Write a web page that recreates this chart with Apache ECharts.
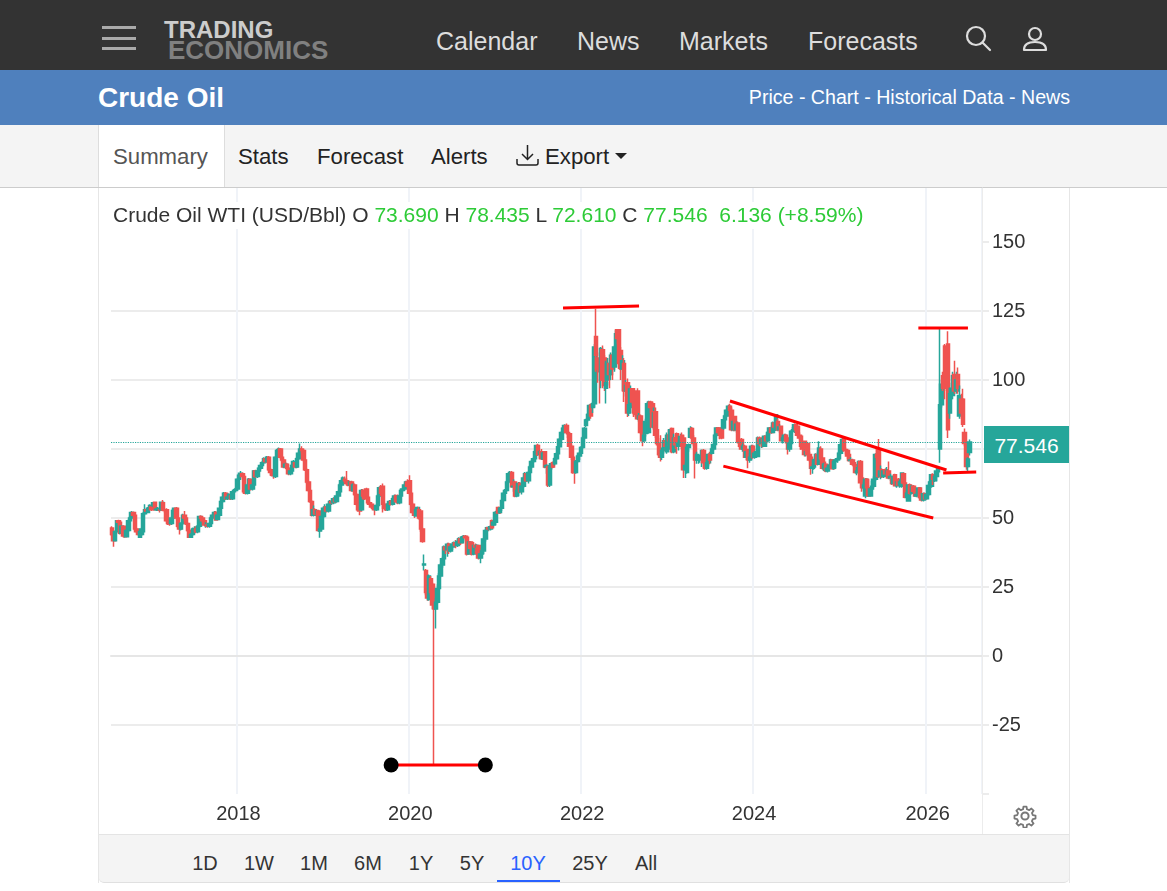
<!DOCTYPE html>
<html><head><meta charset="utf-8"><title>Crude Oil</title>
<script src="https://cdn.jsdelivr.net/npm/echarts@6/dist/echarts.min.js"></script>
<style>
html,body{margin:0;padding:0;background:#fff;width:1167px;height:891px;overflow:hidden;font-family:"Liberation Sans",Arial,sans-serif}
.a{position:absolute;white-space:nowrap}
.nav{font-size:25px;color:#ddd;top:26px;line-height:30px}
.tab{font-size:22.2px;color:#222;top:144px;line-height:26px}
.rng{font-size:20px;color:#333;top:851px;line-height:24px;transform:translateX(-50%)}
.g{color:#2dcb37}
</style></head><body>
<div class="a" style="left:0;top:0;width:1167px;height:70px;background:#333"></div>
<div class="a" style="left:102px;top:26px;width:34px;height:3px;background:#aaa"></div>
<div class="a" style="left:102px;top:37px;width:34px;height:3px;background:#aaa"></div>
<div class="a" style="left:102px;top:47px;width:34px;height:3px;background:#aaa"></div>
<div class="a" style="left:164px;top:16px;font-size:24px;font-weight:bold;color:#ccc;line-height:28px">TRADING</div>
<div class="a" style="left:168px;top:35px;font-size:26px;font-weight:bold;color:#808080;line-height:30px">ECONOMICS</div>
<div class="a nav" style="left:436px">Calendar</div>
<div class="a nav" style="left:577px">News</div>
<div class="a nav" style="left:679px">Markets</div>
<div class="a nav" style="left:808px">Forecasts</div>
<svg class="a" style="left:964px;top:25px" width="28" height="28" viewBox="0 0 28 28" fill="none" stroke="#ddd" stroke-width="2.2"><circle cx="12" cy="11" r="9"/><path d="M18.5 17.5L26 25" stroke-linecap="round"/></svg>
<svg class="a" style="left:1022px;top:26px" width="26" height="27" viewBox="0 0 26 27" fill="none" stroke="#ddd" stroke-width="2.2"><circle cx="13" cy="8" r="6"/><path d="M2 24c0-5 4-8 11-8s11 3 11 8z" stroke-linejoin="round"/></svg>

<div class="a" style="left:0;top:70px;width:1167px;height:55px;background:#4f80bd"></div>
<div class="a" style="left:98px;top:82px;font-size:28px;font-weight:bold;color:#fff;line-height:32px">Crude Oil</div>
<div class="a" style="right:97px;top:85px;font-size:19.6px;color:#fff;line-height:24px">Price - Chart - Historical Data - News</div>

<div class="a" style="left:0;top:125px;width:1167px;height:62px;background:#f4f4f4;border-bottom:1px solid #ccc"></div>
<div class="a" style="left:98px;top:125px;width:125px;height:62px;background:#fff;border-left:1px solid #ddd;border-right:1px solid #ddd"></div>
<div class="a tab" style="left:113px;color:#555">Summary</div>
<div class="a tab" style="left:238px">Stats</div>
<div class="a tab" style="left:317px">Forecast</div>
<div class="a tab" style="left:431px">Alerts</div>
<svg class="a" style="left:516px;top:144px" width="24" height="24" viewBox="0 0 24 24" fill="none" stroke="#222" stroke-width="1.5"><path d="M11.5 1v14M6 10l5.5 5.5L17 10M1 15v4a2 2 0 0 0 2 2h17a2 2 0 0 0 2-2v-4"/></svg>
<div class="a tab" style="left:545px">Export</div>
<div class="a" style="left:615px;top:153px;width:0;height:0;border-left:6px solid transparent;border-right:6px solid transparent;border-top:6px solid #222"></div>

<div class="a" style="left:98px;top:188px;width:1px;height:695px;background:#e6e6e6"></div>
<div class="a" style="left:1069px;top:188px;width:1px;height:695px;background:#e6e6e6"></div>
<div class="a" style="left:982px;top:794px;width:1px;height:40px;background:#ececec"></div>
<svg class="a" style="left:1013px;top:804px" width="24" height="24" viewBox="0 0 24 24" fill="none" stroke="#777" stroke-width="2"><circle cx="12" cy="12" r="3.6"/><path d="M10.3 1.5h3.4l.5 3 2.4 1 2.5-1.8 2.4 2.4-1.8 2.5 1 2.4 3 .5v3.4l-3 .5-1 2.4 1.8 2.5-2.4 2.4-2.5-1.8-2.4 1-.5 3h-3.4l-.5-3-2.4-1-2.5 1.8-2.4-2.4 1.8-2.5-1-2.4-3-.5v-3.4l3-.5 1-2.4-1.8-2.5 2.4-2.4 2.5 1.8 2.4-1z" stroke-linejoin="round" transform="translate(1.2 1.2) scale(.9)"/></svg>

<div class="a" style="left:99px;top:834px;width:970px;height:47px;background:#f4f4f4;border-top:1px solid #e4e4e4;border-bottom:1px solid #e0e0e0;border-radius:0 0 5px 5px"></div>
<div class="a rng" style="left:205px">1D</div>
<div class="a rng" style="left:259px">1W</div>
<div class="a rng" style="left:314px">1M</div>
<div class="a rng" style="left:368px">6M</div>
<div class="a rng" style="left:421px">1Y</div>
<div class="a rng" style="left:472px">5Y</div>
<div class="a rng" style="left:528px;color:#2962ff">10Y</div>
<div class="a rng" style="left:590px">25Y</div>
<div class="a rng" style="left:646px">All</div>
<div class="a" style="left:497px;top:880px;width:63px;height:2px;background:#2962ff"></div>

<div id="c" class="a" style="left:0;top:0;width:1167px;height:891px;z-index:1"></div>
<div class="a" style="left:113px;top:202px;height:27px;line-height:25px;font-size:21px;color:#333;background:#fff;z-index:2">Crude Oil WTI (USD/Bbl) O <span class="g">73.690</span> H <span class="g">78.435</span> L <span class="g">72.610</span> C <span class="g">77.546&nbsp; 6.136 (+8.59%)</span></div>
<div class="a" style="left:984px;top:426px;width:85px;height:37px;line-height:39px;background:#26a69a;color:#fff;font-size:21px;text-align:center;z-index:2">77.546</div>

<script>
// weekly candles: [open, close, low, high]
const w2016=[
[46.4,44,43.5,47],[44,41.8,39.6,44.5],[41.8,45,41.5,45.5],[45,49,44.5,49.2],[49,48.5,47.5,49.4],[48.5,44.5,44,49],[44.5,47,44,47.5],[47,43.5,43,47.4],[43.5,43.2,42.8,45.5],[43.2,45.5,43,46],
[45.5,49,45,49.5],[49,50,48.5,50.5],[50,52,49.5,52.5],[52,51,50.5,52.4],[51,46,45.5,51.5],[46,45,44.5,46.5],[45,44,43.5,45.5],[43,45,42.8,45.5],[44,46,43.5,46.5],[45,51.5,44.8,52],
[51.5,53,51,55],[53,52.5,52,53.5],[52,53.5,51.8,54],[53.5,54.5,53,55]];
const w2017=[
[54,53,52.5,55],[54.5,55.5,54,55.8],[55.7,53,52.8,56],[53,53.2,52.5,53.8],[53,53.4,52.5,54],[53,52.8,52,53.8],[53,55.7,52.5,56],[55.5,53,52.5,56.5],[53,52.7,52,53.5],[53,49,48.5,53.5],
[49,48,47.5,50],[48,47.8,47.2,49],[48,50,47.5,50.5],[50,52.7,49.5,53.2],[52,53.5,51.5,53.8],[53.5,50,49.5,54],[50,47,46.5,50.5],[47,46,44,47.5],[46,48,45.5,48.5],[48,51,47.5,51.5],
[51,50,49,52.5],[50,48,47.5,50.5],[48,45.5,45,48.5],[45.5,43,42.8,46],[43,44,42.8,44.5],[44,46,43.5,46.5],[46,46.2,45,47],[46,45,44.5,47],[45,47,44.5,47.5],[47,50.5,46.5,50.8],
[50.5,50,49.5,51],[50,49,48.5,50.5],[49,47.5,47,49.5],[47.5,47.5,46.5,48.5],[47.5,47,46.5,48],[47,48,46.5,48.5],[48,50,47.5,50.5],[50,51,49.5,51.5],[51,52,50,52.5],[52,49.3,49,52.5],
[49.5,51,49.2,51.5],[51,53.5,50.5,53.8],[53.5,56,53,56.3],[56,57.5,55.5,58],[57.5,59,57,59.4],[59,57,56.5,59.4],[57,57.5,56.5,58],[57.5,58.5,57,59],[58,57,56.5,59],[57,59.5,56.5,59.8],
[59.5,60,59,60.5],[60,60.5,59.5,61]];
const w2018=[
[60.5,64,60,64.5],[64,65.5,63.5,66],[65.5,66.2,65,67],[66,65,64,66.5],[65,59.5,59,65.5],[59.5,59,58.5,60.5],[59,62,58.5,62.5],[62,64,61.5,64.5],[64,60.5,60,64.3],[60.5,62,60,62.5],
[62,67,61.5,67.4],[67,65,64.5,67.5],[65,67,64.5,67.4],[67,68,66.5,68.5],[68,69,67.5,69.5],[69,70,68.5,70.5],[70,71.5,69.5,72],[71.5,70.5,70,72],[70.5,72,70,72.5],[72,67.5,67,72.5],
[67.5,66.5,65.5,68],[66.5,65.5,65,67],[65,65,64.2,66],[65,72,64.5,72.5],[72,74.5,71.5,75],[74.5,75,73.5,75.5],[75,72,71.5,75.4],[72,71,70.5,72.5],[71,68.5,68,71.5],[68.5,69.5,68,70],
[69.5,68,67.5,70],[68,66,65.5,68.5],[66,67,65.5,67.5],[67,69,66.5,69.5],[69,70.5,68.5,71],[70,68.5,68,70.5],[68.5,71.5,68,72],[71.5,73.5,71,74],[73.5,75,73,77],[75,74.5,73.5,76],
[74.5,71,70.5,75],[71,67.5,67,71.5],[67.5,63,62.5,68],[63,60,59.5,63.5],[60,56,55.5,60.5],[56,51,50.5,56.5],[51,53,50.5,54.5],[53,51.5,51,53.5],[51.5,52.5,50.5,53],[52.5,45.5,45,53],
[45.3,46,42.8,47],[46,50.5,45.5,51]];
const w2019=[
[50.5,53.5,50,54],[53.5,54,53,55],[54,52.5,52,54.5],[52.5,55,52,55.5],[55,56,54.5,56.5],[56,55.5,55,56.5],[55.5,57,55,57.5],[57,56,55.5,57.5],[56,58,55.5,58.5],[58,59.5,57.5,60],
[59.5,62,59,62.5],[62,63.5,61.5,64],[63.5,64.5,63,65],[64,63.5,63,65],[63.5,62.5,62,67],[62.5,62,61.5,63.5],[62,63,61.5,63.5],[63,60,59.5,63.5],[60,62,59.5,62.5],[62,58.5,58,62.5],
[58.5,55,54.5,59],[55,53,52.5,55.5],[53,52.5,51,53.5],[53,60,52.5,60.5],[60,58,57.5,60.5],[58,57,56.5,58.5],[60.5,57.5,57,61],[57.5,55.5,55,58],[55.5,55,54.5,56],[55,54,53.5,55.5],
[54,53.5,53,54.5],[54,53,51,54.5],[53,54.5,52.5,55],[54.5,58,54,58.5],[58,61,57.5,61.5],[61,59,58,62],[61.5,55,52,62.5],[55,53.5,53,55.5],[53.5,53,52.5,54],[53,55,52.5,55.5],
[55,56,54.5,56.5],[56,55,54.5,56.5],[55,57,54.5,57.5],[57,58,56.5,58.5],[58,56,55.5,58.5],[58,55.5,55,58.5],[55.5,58,55,58.5],[58,60,57.5,60.5],[60,60.5,59.5,61],[60.5,62,60,62.5],
[62,63,61.5,63.5],[63,61.5,61,64]];
const w2020=[
[63.5,59,58.5,65.5],[59,55,54.5,59.5],[55,52,51.5,55.5],[52,51,50,52.5],[50.7,53,50.5,53.5],[53,53.8,52,54.2],[53,50,49.5,54],[52.5,46,45,52.8],[46,41.5,41,46.5],[33,33.3,31,36.8],
[31,23,22,31.5],[23,21,20,25],[20.5,29,20,29.5],[28,23,22,29],[26,18.5,17,26.5],[18,17,-39.5,19],[17,19.5,10,21],[19.5,24.5,19,26],[24.5,29,24,30],[29,33,28.5,33.5],
[33,35.2,32,36],[35.2,39.5,34,40],[39.5,38.5,37,40],[38.5,40.5,36,41],[40.5,38,37,41],[38,39.5,37.5,40.2],[39.5,40.5,38.5,41],[40.5,41,39.5,41.5],[41,40,39,42],[40,41.5,39.5,42.2],
[41.5,42.5,40.5,43],[42.5,41,40.2,43.2],[41,43,40.8,43.5],[43,43.4,41.5,43.8],[43.4,42.8,42,43.8],[43,37,36.4,43.2],[37,41.3,36.8,41.6],[41.3,39,37.5,41.6],[41,37,36.4,41.4],[37,40,36.5,40.3],
[40,39.5,37,40.8],[39.5,40,38,40.5],[40,35.5,35,40.2],[35.5,37,33.6,37.5],[37,38,36,39],[38,42.4,37,42.8],[42.4,45.5,41.5,46],[45.5,46.5,44.5,46.8],[46.5,46,45.5,47],[46,46.8,45.5,47.5],
[49,46.5,46,49.5],[47.5,48.5,47,49.5]];
const w2021=[
[48.5,52,47.5,52.5],[52,52.2,51.5,53],[53.8,51.8,51.5,54.2],[52,53.5,51.5,54],[53.5,56.3,52.5,56.6],[56.3,59,56,59.5],[59,60,58.5,60.5],[60,63,59.5,63.5],[63,66,62.5,66.4],[66,66.5,64,67],
[66.5,61.3,61,67],[61.3,61.5,59.5,64],[63,58,57.5,63.5],[58,60,57.5,61.5],[60,62.5,58,63],[62.5,59.5,59,63],[59.5,61.5,58.5,62],[61.5,64.5,61,65],[64.5,66,63.5,66.7],[66,63.5,63,66.5],
[63.5,66.5,62.5,67],[66.5,68.5,66,69],[68.5,70.5,68,71],[70.5,71.5,70,72],[71.5,74,71,74.5],[74,76.3,73,76.5],[76.3,73,72.5,76.9],[73,74,71.5,74.5],[74,71.5,71,75],[71.5,73.5,71,74],
[74,68.5,68,74.2],[68.5,69,66,69.5],[68.5,62,61.2,69],[62,68.5,61.2,68.8],[68.5,69.7,67.5,70.2],[70,68.5,68,70.5],[69.7,71.5,69,72],[71.5,73.3,71,73.8],[73.3,75.8,73,76],[75.8,78.5,75.5,79],
[78.5,81,78,81.5],[81,82.5,80.5,83],[82.5,83.5,81,84],[83.5,81,80.5,84.2],[81,80.5,79,82.5],[80.5,76,75.5,81],[76,72,71,76.5],[72,66.5,66,72.5],[69.5,66.5,62.4,70],[66.5,70.5,66,71],
[70.5,72.5,70,73],[72.5,73.5,71,74]];
const w2022=[
[73.5,75.5,73,76],[75.5,79,75,79.5],[79,82.5,78.5,83],[83.5,85.5,83,86],[85.5,87.5,85,88],[87.5,90.8,87,91.2],[90.8,87,86,91.5],[90,91.4,88,92],[91.4,112,90,113],[115.8,109,103,125.8],
[108,104,99,110],[104,103,91.5,106],[100,111.4,97,112],[111,100,97,112.5],[108,98,96,109],[97,99,91.5,107],[100,106,98,108],[106,102,97,108],[102,109,100,110],[109,104,100,110],
[104.7,112,103,112.5],[110.7,116.8,110,118],[118.2,115,113,118.5],[118.2,106,104,118.5],[110.7,104,100,112],[104,107,96,109],[106,96,92,108],[96,98,94,100],[99,88,86.6,100.5],[88,91,87,97],
[90,96.8,88,98],[96.8,92,91,97],[92,88,86.6,93.5],[88,87.5,86.5,96],[96,86,85.5,97],[86,87,85,88],[87,81,80.5,87.5],[84,78,76,85],[78,80,77.5,81],[80.6,85,79.5,86],
[85,91.4,83.5,92],[81,92,80.5,92.5],[92,90,88,92.5],[91.4,83,82.5,92],[83,88,82,90],[88.5,80,79,90],[82,77,76.3,83.6],[77,73,72.5,79],[73,72,70.5,80],[72,74.5,71,75.5],
[74.5,78,73.3,79],[78,76,74,79]];
const w2023=[
[74,80,73.3,81],[80,78,76,82],[75,82,74,82.5],[82.4,74,73.5,82.8],[74,79,73.5,80.5],[79,76.5,75,80],[80.5,76,73.3,81],[76,77,74.5,78],[77,79.5,75.7,80.5],[80,76,75,81],
[79,67.5,64.5,80],[67.5,69,64.5,70],[66.5,75.5,66,76],[75.5,76.5,74,77],[79.3,82.4,79,83.2],[82.4,79,78.5,83],[79,77,76,80],[77,71,64.3,77.5],[71,73,69.7,74],[71,71.5,69.7,72],
[71.5,72,70,73],[72,74.5,68.5,74.8],[74.5,70,68,75],[72,68,67.5,72.3],[68,70,67.5,71],[70,73,68.7,73.5],[73,71,69.5,74],[73.5,75,73,75.5],[75,76.6,74.5,77],[76.6,80,76,80.5],
[80,82.6,79.5,83],[82.6,81,80,83],[81,80,78.5,82],[82.5,79,78.5,83],[82.6,85.6,82,86],[85.6,87,85,87.5],[87,89,86.5,89.5],[89,90.5,88,91],[90.5,89,87,91.4],[89,82,81.4,90],
[82,85,81.4,86],[86.8,82,81.4,87],[82,84,81,85],[84.4,77.5,77,85],[77.5,76,75.5,79],[78.4,75,74.8,79],[75,76,74,77],[76,72,71.7,76.5],[72,74,71,75],[74.8,71,68,75],
[71,72,70,73.5],[72,76,71,76.5],[76,72,71.5,76.5]];
const w2024=[
[72,73.5,71.5,74],[73.5,74,72.5,75],[72.3,79,72,79.5],[79,77,76,79.5],[77,78.4,75.4,79],[78.4,76,75.5,79.5],[76,79.6,75.8,80],[79.6,78,77,80.5],[78,81,77.5,81.5],[81,82.6,80,83],
[82.6,81,80.5,83.5],[81,84.4,80.8,85],[84.4,83,82,85],[82,87.4,81.5,87.6],[85,82,81.4,86],[82,83,81,84],[83.2,78,77.8,83.5],[78,79,77,80],[79,80,77.8,80.5],[80,78,77,80.5],
[79,75,73,79.5],[75,77,74,78],[77,81.4,76.6,81.8],[81.4,82,81,83],[82,83.8,80.8,84.2],[83.8,82,81,84],[83.2,80,79.5,83.6],[80,79,78.4,81],[79.6,76,74.8,80],[76,75,74.8,77],
[77.8,73,72.3,78],[73,74,72.3,75],[77,73,72.3,77.3],[73,71,70.5,74],[72,68,65.7,72.3],[68,68.5,66,69.5],[68.5,71,67.5,71.5],[71,73,69.3,73.5],[73,69.5,69,74],[69.5,75.4,69.3,77.8],
[75,71.5,71,76],[71.7,68,67.5,72],[68,69.5,67,70],[69.5,67,66.6,70.5],[67,68,66.5,69],[68,69,67,69.5],[69,71,68.5,71.5],[71,67.8,67.5,71.3],[68,70.5,67.5,71],[70.5,71,68,71.5],
[71,71.5,70,72],[71.5,73.5,71,74]];
const w2025=[
[73.5,76.5,73,77],[76.5,78.4,74,79],[78.4,74.8,74,79],[74.8,74.5,73,75.5],[74.5,72.5,71.5,75],[73,70.8,70.5,73.5],[70.8,71,70,72],[71,69.5,69,71.5],[70,69.3,68.5,70.5],[69.3,66.5,66,70],
[66.5,67,65.5,68.5],[67,70.5,66,70.8],[70.5,62.8,62.5,71],[64.5,61,59.5,65],[61,62,60,63],[58,64,57.2,64.5],[64,61,58,64.5],[61,58,57.8,64],[58,60.5,57.8,61],[60.5,61.5,60,63.5],
[61.5,64,61,65],[64,73,63.3,73.5],[73,72,71,75],[75,65,64.5,78.6],[65,67,64,69],[67.5,65,64.5,68],[65,67,64.5,67.5],[67.5,66,65.7,68],[66,67,65,68.5],[67,64.5,64,70.5],
[64.5,65,63.5,66],[64.5,62.5,62,65],[62.5,65,62,65.5],[65.7,61.7,61.5,66],[61.7,63,61,63.5],[64,62,61.5,64.5],[62,63,61,64],[61.5,66.3,61,66.5],[66,62.7,62,66.5],[62.7,57.5,57.2,63],
[57.5,59,56.8,60],[56.2,62,56,62.3],[62,59,58.5,62.5],[59,61.5,58.5,62],[61.5,59.7,59,62],[59.7,58,57.8,60.3],[58,58.5,57.5,59.5],[58.5,60.9,57.2,61],[60.9,57.5,57,61.2],[57.5,56.5,56,59],
[56.5,58.8,56,59.2],[58.8,57,56.6,59.2]];
const w2026=[
[57,58.5,56.6,59],[58.5,61.8,58,62.2],[61.8,63,61,63.5],[61.5,65.7,61,66],[65.7,64,62,66.2],[63.5,65,63,65.5],[65,67,63.3,67.3],[66.8,68,66,68.5],[75,91,70,119],[91,98.5,90,100],
[101.5,97,96,103],[112.3,97,93,113],[108,98,96,110],[113,82,79,117.7],[88,95,86,97],[95,97,93,99],[94.4,101.5,93,103],[102,96,95,107],[96,100,95,103],[102,97,95,104.5],
[87,94.4,86,98],[93,88,86,95],[93,84,83,96.8],[81,77,76,82.4],[77,68.7,67.5,78],[68.7,71.4,67,72],[73.69,77.546,72.61,78.435]];

const lastClose = 77.546;
const yTicks = [-25,0,25,50,75,100,125,150];
const xTickDates = ['2018-01-01','2019-12-30','2021-12-27','2023-12-25','2025-12-29'];
const xTickLabels = ['2018','2020','2022','2024','2026'];

// trend-line annotations: [week index, price]
const lineHighLeft = [[273,126.1],[319,126.8]];
const lineChannelTop = [[374,92.4],[505,67.4]];
const lineChannelBottom = [[370,68.8],[497,50]];
const lineBreakout = [[503,66.3],[523,66.7]];
const lineHighRight = [[488,118.8],[518,118.8]];
const lineLow = [[169,-39.5],[226,-39.5]];

const candles = [].concat(w2016,w2017,w2018,w2019,w2020,w2021,w2022,w2023,w2024,w2025,w2026);
const weekCount = 527; // ten years of weeks plus the right-hand margin of the plot
const categories = [];
for (let k = 0; k < weekCount; k++) {
  categories.push(new Date(Date.UTC(2016,6,18+7*k)).toISOString().slice(0,10));
}
const isYearTick = (i, v) => xTickDates.includes(v);
const annot = (data, sym) => ({type:'line',data,silent:true,animation:false,z:5,
  symbol:sym?'circle':'none',symbolSize:15,showSymbol:!!sym,showAllSymbol:true,
  itemStyle:{color:'#000',opacity:1},lineStyle:{color:'#ff0000',width:3}});

const chart = echarts.init(document.getElementById('c'),null,{renderer:'canvas'});
chart.setOption({
  animation:false,
  grid:{left:111,top:188,width:871,height:606,containLabel:false},
  xAxis:{type:'category',data:categories,boundaryGap:true,
    axisLine:{show:true,lineStyle:{color:'#e6e6e6',width:2}},
    axisTick:{show:false},
    axisLabel:{interval:isYearTick,hideOverlap:false,margin:10,color:'#333',fontSize:20,padding:[0,0,0,2],
      fontFamily:'Liberation Sans',formatter:v=>xTickLabels[xTickDates.indexOf(v)]||''},
    splitLine:{show:true,interval:isYearTick,lineStyle:{color:'#f0f3f8',width:2}}},
  yAxis:{type:'value',position:'right',min:-50,max:169.565,interval:25,scale:true,
    axisLine:{show:true,lineStyle:{color:'#ececec',width:1}},
    axisTick:{show:true,length:7,customValues:[-50].concat(yTicks),lineStyle:{color:'#ececec',width:2}},
    axisLabel:{margin:10,customValues:yTicks,color:'#333',fontSize:20,padding:[0,0,3,0],fontFamily:'Liberation Sans'},
    splitLine:{show:true,showMinLine:false,showMaxLine:false,lineStyle:{color:'#ececec',width:2}}},
  series:[
    {type:'candlestick',data:candles,barWidth:4,large:false,progressive:0,animation:false,silent:true,z:3,
     itemStyle:{color:'#26a69a',color0:'#ef5350',borderColor:'#26a69a',borderColor0:'#ef5350',borderWidth:1.5},
     markLine:{silent:true,symbol:'none',animation:false,label:{show:false},
       lineStyle:{color:'#26a69a',type:'dotted',width:1.2,opacity:1},data:[{yAxis:lastClose}]}},
    annot(lineHighLeft),annot(lineChannelTop),annot(lineChannelBottom),annot(lineBreakout),annot(lineHighRight),annot(lineLow,true)
  ]
});
</script>
</body></html>
